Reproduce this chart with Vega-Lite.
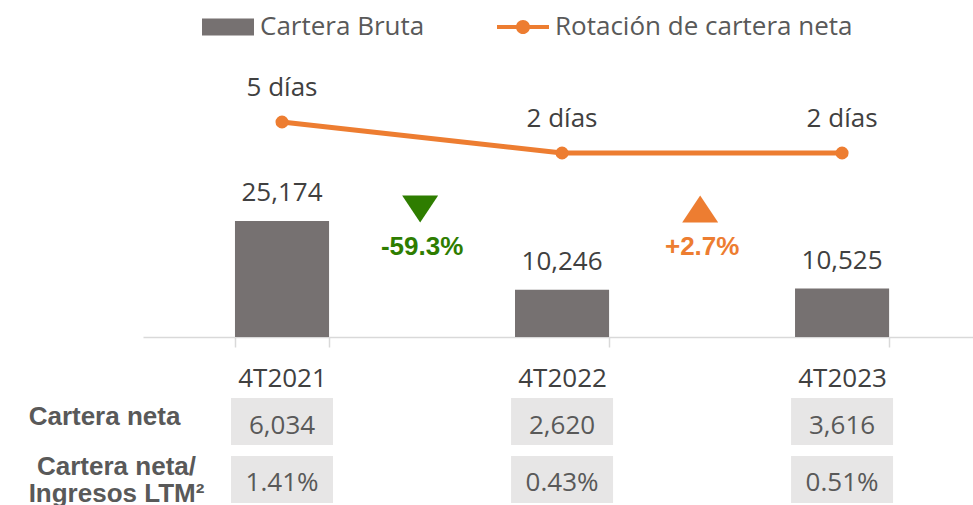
{
  "$schema": "https://vega.github.io/schema/vega-lite/v6.json",
  "autosize": {"type": "none"},
  "width": 830,
  "height": 337,
  "padding": {"left": 143, "top": 0, "right": 0, "bottom": 168},
  "background": "white",
  "config": {
    "view": {"stroke": null},
    "font": "Open Sans",
    "axis": {"grid": false},
    "locale": {"number": {"decimal": ".", "thousands": ",", "grouping": [3], "currency": ["$", ""], "minus": "-"}}
  },
  "datasets": {
    "main": [
      {"trimestre": "4T2021", "cartera_bruta": 25174, "rotacion": 5},
      {"trimestre": "4T2022", "cartera_bruta": 10246, "rotacion": 2},
      {"trimestre": "4T2023", "cartera_bruta": 10525, "rotacion": 2}
    ],
    "cambios": [
      {"trimestre": "4T2021", "cambio": -0.593},
      {"trimestre": "4T2022", "cambio": 0.027}
    ],
    "tabla": [
      {"trimestre": "4T2021", "fila": "Cartera neta", "valor": 6034},
      {"trimestre": "4T2022", "fila": "Cartera neta", "valor": 2620},
      {"trimestre": "4T2023", "fila": "Cartera neta", "valor": 3616},
      {"trimestre": "4T2021", "fila": "Cartera neta/Ingresos LTM²", "valor": 0.0141},
      {"trimestre": "4T2022", "fila": "Cartera neta/Ingresos LTM²", "valor": 0.0043},
      {"trimestre": "4T2023", "fila": "Cartera neta/Ingresos LTM²", "valor": 0.0051}
    ]
  },
  "encoding": {
    "x": {
      "field": "trimestre", "type": "nominal", "sort": null,
      "scale": {"paddingInner": 0.664, "paddingOuter": 0.314, "align": 0.523},
      "axis": {
        "title": null, "labelAngle": 0,
        "domainColor": "#d9d9d9", "domainWidth": 1.5,
        "tickColor": "#d9d9d9", "tickWidth": 1.5, "tickSize": 10, "tickBand": "extent",
        "labelFont": "Open Sans", "labelFontSize": 26, "labelColor": "#404040",
        "labelBaseline": "alphabetic", "labelPadding": 39
      }
    }
  },
  "layer": [
    {
      "data": {"name": "main"},
      "encoding": {
        "y": {"field": "cartera_bruta", "type": "quantitative", "scale": {"domain": [0, 73135], "nice": false}, "axis": null}
      },
      "layer": [
        {
          "mark": {"type": "bar", "color": "#767171"},
          "encoding": {
            "color": {
              "datum": "Cartera Bruta", "type": "nominal",
              "scale": {"domain": ["Cartera Bruta", "Rotación de cartera neta"], "range": ["#767171", "#ED7D31"]},
              "legend": {
                "title": null, "orient": "none", "legendX": 59, "legendY": 1, "direction": "horizontal",
                "labelFont": "Open Sans", "labelFontSize": 26, "labelColor": "#595959", "labelLimit": 400,
                "symbolSize": 2704, "labelOffset": 6, "columnPadding": 72, "symbolStrokeWidth": 0,
                "encode": {
                  "symbols": {
                    "update": {
                      "shape": {"signal": "datum.value === 'Cartera Bruta' ? 'M-1,-0.33H1V0.33H-1Z' : 'M-1,-0.08H1V0.08H-1Z M0.27,0A0.27,0.27,0,1,1,-0.27,0A0.27,0.27,0,1,1,0.27,0Z'"},
                      "fill": {"signal": "datum.value === 'Cartera Bruta' ? '#767171' : '#ED7D31'"},
                      "stroke": {"value": "transparent"},
                      "opacity": {"value": 1}
                    }
                  }
                }
              }
            }
          }
        },
        {
          "mark": {"type": "text", "dy": -20, "baseline": "alphabetic", "fontSize": 26, "color": "#404040", "font": "Open Sans"},
          "encoding": {"text": {"field": "cartera_bruta", "type": "quantitative", "format": ",d"}}
        }
      ]
    },
    {
      "data": {"name": "cambios"},
      "encoding": {
        "x": {"field": "trimestre", "type": "nominal", "bandPosition": 1.968},
        "color": {"condition": {"test": "datum.cambio < 0", "value": "#2E7D00"}, "value": "#ED7D31"}
      },
      "layer": [
        {
          "mark": {"type": "point", "filled": true, "size": 1296, "opacity": 1},
          "encoding": {
            "y": {"datum": 27780, "type": "quantitative", "scale": {"domain": [0, 73135], "nice": false}, "axis": null},
            "shape": {"condition": {"test": "datum.cambio < 0", "value": "M-1,-0.75L1,-0.75L0,0.75Z"}, "value": "M0,-0.75L1,0.75L-1,0.75Z"}
          }
        },
        {
          "mark": {"type": "text", "font": "Liberation Sans", "fontWeight": "bold", "fontSize": 26, "baseline": "alphabetic", "dx": 2},
          "encoding": {
            "y": {"datum": 17700, "type": "quantitative"},
            "text": {"field": "cambio", "type": "quantitative", "format": "+.1%"}
          }
        }
      ]
    },
    {
      "data": {"name": "main"},
      "transform": [{"calculate": "datum.rotacion + ' días'", "as": "etiqueta"}],
      "encoding": {
        "y": {"field": "rotacion", "type": "quantitative", "scale": {"domain": [-15.806, 16.806], "nice": false, "zero": false}, "axis": null}
      },
      "layer": [
        {
          "mark": {"type": "line", "strokeWidth": 5},
          "encoding": {"color": {"datum": "Rotación de cartera neta", "type": "nominal"}}
        },
        {
          "mark": {"type": "point", "filled": true, "size": 170, "opacity": 1},
          "encoding": {"color": {"datum": "Rotación de cartera neta", "type": "nominal"}}
        },
        {
          "mark": {"type": "text", "dy": -26, "baseline": "alphabetic", "fontSize": 26, "color": "#404040", "font": "Open Sans"},
          "encoding": {"text": {"field": "etiqueta", "type": "nominal"}}
        }
      ]
    },
    {
      "data": {"name": "tabla"},
      "encoding": {
        "y": {
          "field": "fila", "type": "nominal", "sort": null,
          "scale": {"range": [398, 503], "paddingInner": 0.19, "paddingOuter": 0},
          "axis": {
            "orient": "left",
            "title": null, "domain": false, "ticks": false,
            "labelFont": "Liberation Sans", "labelFontWeight": "bold", "labelFontSize": 26,
            "labelColor": "#595959", "labelAlign": "center", "labelBaseline": "middle",
            "labelLineHeight": 27, "labelLimit": 0,
            "labelExpr": "datum.value === 'Cartera neta' ? datum.value : ['Cartera neta/', 'Ingresos LTM²']",
            "labelPadding": {"condition": {"test": "datum.value === 'Cartera neta'", "value": 39}, "value": 27},
            "labelOffset": {"condition": {"test": "datum.value === 'Cartera neta'", "value": -4}, "value": -13}
          }
        }
      },
      "layer": [
        {"mark": {"type": "bar", "color": "#e7e6e6", "width": 102}},
        {
          "transform": [{"filter": "datum.fila === 'Cartera neta'"}],
          "mark": {"type": "text", "fontSize": 26, "color": "#595959", "font": "Open Sans", "dy": 5},
          "encoding": {"text": {"field": "valor", "type": "quantitative", "format": ",d"}}
        },
        {
          "transform": [{"filter": "datum.fila !== 'Cartera neta'"}],
          "mark": {"type": "text", "fontSize": 26, "color": "#595959", "font": "Open Sans", "dy": 3},
          "encoding": {"text": {"field": "valor", "type": "quantitative", "format": ".2%"}}
        }
      ]
    }
  ],
  "resolve": {"scale": {"y": "independent"}}
}
